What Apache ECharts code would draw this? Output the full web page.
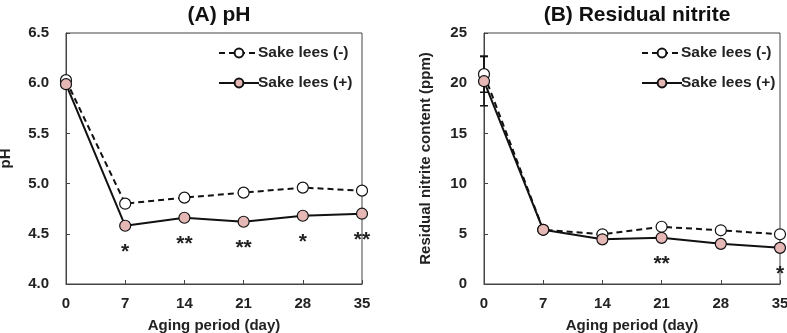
<!DOCTYPE html>
<html>
<head>
<meta charset="utf-8">
<script src="https://cdn.jsdelivr.net/npm/echarts@6/dist/echarts.min.js"></script>
<style>
  html, body { margin: 0; padding: 0; background: #fff; }
  #chart { width: 787px; height: 333px; }
</style>
</head>
<body>
<div id="chart"></div>
<script>
// aging period (day)
const days = [0, 7, 14, 21, 28, 35];

// (A) pH
const phMinus = [6.03, 4.80, 4.86, 4.91, 4.96, 4.93];
const phPlus = [5.99, 4.58, 4.66, 4.62, 4.68, 4.70];
const phSig = ["", "*", "**", "**", "*", "**"];

// (B) residual nitrite (ppm)
const nitMinus = [20.9, 5.4, 4.95, 5.7, 5.35, 4.95];
const nitPlus = [20.2, 5.4, 4.45, 4.6, 4.0, 3.6];
const nitMinusErr = [1.8, 0, 0, 0, 0, 0];
const nitPlusErr = [2.45, 0, 0, 0, 0, 0];
const nitSig = ["", "", "", "**", "", "*"];

const phTicks = { min: 4.0, max: 6.5, interval: 0.5 };
const nitTicks = { min: 0, max: 25, interval: 5 };

const FONT = "Liberation Sans";
const AXIS_COLOR = "#444";
const PINK = "#e5b8b6";

const pairs = (vals) => days.map((d, i) => [d, vals[i]]);
const errPairs = (vals, errs) =>
  days.map((d, i) => [d, vals[i] - errs[i], vals[i] + errs[i]]);

const chart = echarts.init(document.getElementById("chart"));

function xAxis(gridIndex) {
  return {
    type: "value",
    gridIndex,
    min: 0,
    max: 35,
    interval: 7,
    name: "Aging period (day)",
    nameLocation: "middle",
    nameGap: 34,
    nameTextStyle: { fontFamily: FONT, fontWeight: "bold", fontSize: 15, color: "#222" },
    axisLine: { lineStyle: { color: AXIS_COLOR, width: 1 } },
    axisTick: { inside: true, length: 4, lineStyle: { color: AXIS_COLOR } },
    axisLabel: { fontFamily: FONT, fontWeight: "bold", fontSize: 15, color: "#222", margin: 12 },
    splitLine: { show: false },
  };
}

function yAxis(gridIndex, ticks, name, fmt, gap) {
  return {
    type: "value",
    gridIndex,
    min: ticks.min,
    max: ticks.max,
    interval: ticks.interval,
    name,
    nameLocation: "middle",
    nameGap: gap,
    nameTextStyle: { fontFamily: FONT, fontWeight: "bold", fontSize: 15, color: "#222" },
    axisLine: { show: true, lineStyle: { color: AXIS_COLOR, width: 1 } },
    axisTick: { show: true, inside: true, length: 4, lineStyle: { color: AXIS_COLOR } },
    axisLabel: {
      fontFamily: FONT,
      fontWeight: "bold",
      fontSize: 15,
      color: "#222",
      margin: 17,
      formatter: fmt ? (v) => v.toFixed(1) : (v) => String(v),
    },
    splitLine: { show: false },
  };
}

function lineSeries(name, data, idx, dashed, sig) {
  const s = {
    name,
    type: "line",
    xAxisIndex: idx,
    yAxisIndex: idx,
    data,
    symbol: "circle",
    symbolSize: 11,
    showSymbol: true,
    z: 3,
    lineStyle: { color: "#111", width: 2, type: dashed ? [6, 4] : "solid" },
    itemStyle: { color: dashed ? "#fff" : PINK, borderColor: "#111", borderWidth: 1.2 },
    emphasis: { disabled: true },
    animation: false,
  };
  if (sig) {
    s.label = {
      show: true,
      position: "bottom",
      distance: 10,
      formatter: (p) => sig[p.dataIndex],
      fontFamily: FONT,
      fontWeight: "bold",
      fontSize: 21,
      color: "#222",
    };
  }
  return s;
}

function errSeries(data, idx) {
  return {
    type: "custom",
    xAxisIndex: idx,
    yAxisIndex: idx,
    data,
    z: 1,
    silent: true,
    animation: false,
    renderItem: (params, api) => {
      const lo = api.value(1);
      const hi = api.value(2);
      if (lo === hi) return null;
      const a = api.coord([api.value(0), lo]);
      const b = api.coord([api.value(0), hi]);
      const st = { stroke: "#111", lineWidth: 1.5 };
      return {
        type: "group",
        children: [
          { type: "line", shape: { x1: a[0], y1: a[1], x2: b[0], y2: b[1] }, style: st },
          { type: "line", shape: { x1: a[0] - 4, y1: a[1], x2: a[0] + 4, y2: a[1] }, style: st },
          { type: "line", shape: { x1: b[0] - 4, y1: b[1], x2: b[0] + 4, y2: b[1] }, style: st },
        ],
      };
    },
  };
}

function legend(left) {
  return {
    left,
    top: 40,
    orient: "vertical",
    itemWidth: 40,
    itemHeight: 11,
    itemGap: 14,
    data: ["Sake lees (-)", "Sake lees (+)"],
    textStyle: { fontFamily: FONT, fontWeight: "bold", fontSize: 15.5, color: "#222", padding: [0, 0, 0, -6] },
    selectedMode: false,
  };
}

const gridBase = {
  top: 33,
  bottom: 49,
  show: true,
  borderColor: AXIS_COLOR,
  borderWidth: 1,
  containLabel: false,
  outerBoundsMode: "none",
};

const option = {
  animation: false,
  backgroundColor: "#fff",
  title: [
    {
      text: "(A) pH",
      left: 214,
      top: 0,
      textAlign: "center",
      textStyle: { fontFamily: FONT, fontWeight: "bold", fontSize: 21, color: "#111" },
    },
    {
      text: "(B) Residual nitrite",
      left: 632,
      top: 0,
      textAlign: "center",
      textStyle: { fontFamily: FONT, fontWeight: "bold", fontSize: 21, color: "#111" },
    },
  ],
  grid: [
    Object.assign({ left: 66, right: 425 }, gridBase),
    Object.assign({ left: 484, right: 7 }, gridBase),
  ],
  legend: [legend(213), legend(636)],
  xAxis: [xAxis(0), xAxis(1)],
  yAxis: [
    yAxis(0, phTicks, "pH", true, 53),
    yAxis(1, nitTicks, "Residual nitrite content (ppm)", false, 51),
  ],
  series: [
    errSeries(errPairs(nitMinus, nitMinusErr), 1),
    errSeries(errPairs(nitPlus, nitPlusErr), 1),
    lineSeries("Sake lees (-)", pairs(phMinus), 0, true, null),
    lineSeries("Sake lees (+)", pairs(phPlus), 0, false, phSig),
    lineSeries("Sake lees (-)", pairs(nitMinus), 1, true, null),
    lineSeries("Sake lees (+)", pairs(nitPlus), 1, false, nitSig),
  ],
};

chart.setOption(option);
</script>
</body>
</html>
